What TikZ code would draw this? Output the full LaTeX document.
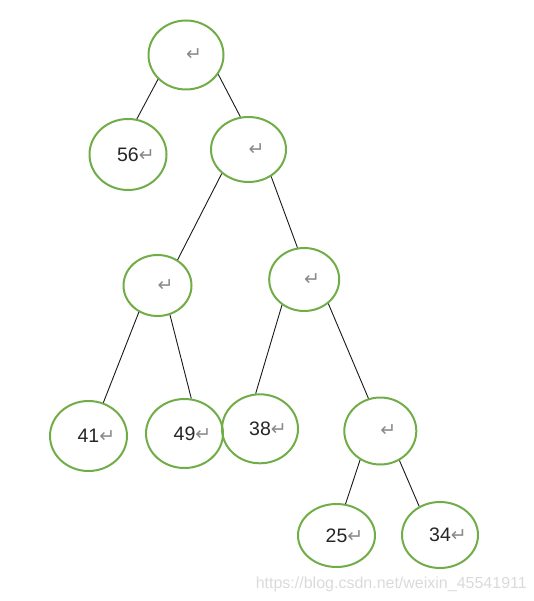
\documentclass[tikz,border=0pt]{standalone}
\usepackage{fontspec}
\setmainfont{Liberation Sans}
\newfontfamily\symfont{DejaVu Sans}
\usetikzlibrary{shapes.geometric}
\definecolor{nodegreen}{HTML}{70AD47}
\definecolor{retgray}{HTML}{8A8A8A}
\definecolor{wmgray}{HTML}{DADADA}
\newcommand{\retmark}{\rlap{\fontsize{19}{19}\selectfont\symfont\color{retgray}↵}}
\newcommand{\numtext}[1]{\fontsize{19.5}{19.5}\selectfont #1\retmark}
\tikzset{
  treenode/.style={ellipse, draw=nodegreen, line width=2pt, inner sep=0pt, text=black!85},
  edge/.style={draw=black!90, line width=0.9pt}
}
\begin{document}
\begin{tikzpicture}[x=1pt,y=-1pt]
\useasboundingbox (0,0) rectangle (534,601);
\node[treenode, minimum width=75pt, minimum height=69pt] (root) at (186,55) {\numtext{}};
\node[treenode, minimum width=77pt, minimum height=71pt] (n56) at (128,154.5) {\numtext{56}};
\node[treenode, minimum width=75pt, minimum height=65pt] (n1) at (248.5,149.5) {\numtext{}};
\node[treenode, minimum width=68pt, minimum height=61pt] (n2) at (157.5,285.5) {\numtext{}};
\node[treenode, minimum width=70pt, minimum height=63pt] (n3) at (304.2,279.5) {\numtext{}};
\node[treenode, minimum width=77pt, minimum height=70pt] (n41) at (88.5,436) {\numtext{41}};
\node[treenode, minimum width=77pt, minimum height=69pt] (n49) at (184.5,433.5) {\numtext{49}};
\node[treenode, minimum width=76pt, minimum height=69pt] (n38) at (260,428.8) {\numtext{38}};
\node[treenode, minimum width=72pt, minimum height=67pt] (n4) at (380.3,431) {\numtext{}};
\node[treenode, minimum width=77pt, minimum height=63pt] (n25) at (336.5,535.5) {\numtext{25}};
\node[treenode, minimum width=76pt, minimum height=66pt] (n34) at (440,535) {\numtext{34}};
\draw[edge] (root.221) -- (n56.76);
\draw[edge] (root.329) -- (n1.104);
\draw[edge] (n1.222) -- (n2.52);
\draw[edge] (n1.310) -- (n3.102);
\draw[edge] (n2.235) -- (n41.66);
\draw[edge] (n2.293) -- (n49.79);
\draw[edge] (n3.229) -- (n38.97);
\draw[edge] (n3.315) -- (n4.110);
\draw[edge] (n4.235) -- (n25.74);
\draw[edge] (n4.303) -- (n34.126);
\node[anchor=base east, text=wmgray, font=\fontsize{16}{16}\selectfont, inner sep=0pt] (wm) at (527,588) {https://blog.csdn.net/weixin\_45541911};
\end{tikzpicture}
\end{document}
